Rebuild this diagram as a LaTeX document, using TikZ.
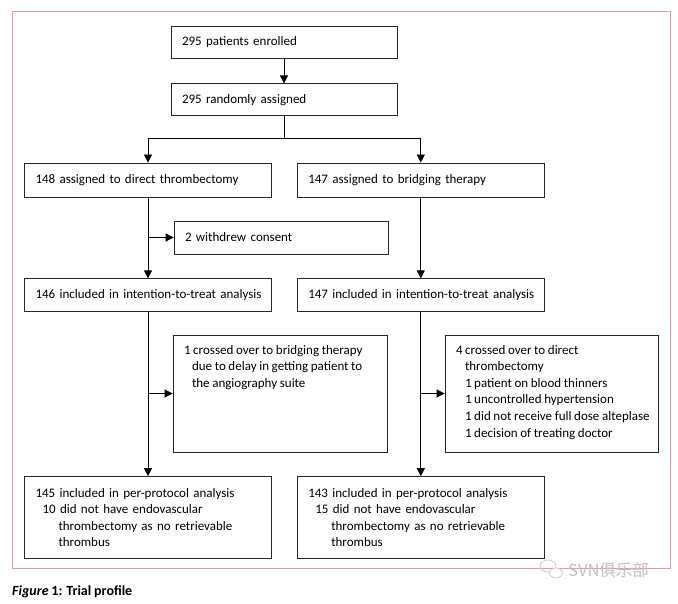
\documentclass[tikz,border=0pt]{standalone}
\usepackage{fontspec}
\setmainfont{Carlito}[WordSpace=0.9]
\newfontfamily\cjkfont{Noto Sans CJK SC}
\usepackage{xcolor}
\usetikzlibrary{arrows.meta,positioning}
\definecolor{framepink}{RGB}{228,152,168}
\definecolor{boxline}{RGB}{40,40,40}

\begin{document}
\begin{tikzpicture}[
    x=1pt, y=-1pt,
    font=\fontsize{13}{16.6}\selectfont,
    node distance=25pt and 25pt,
    box/.style={draw=boxline, line width=0.8pt, align=left, inner xsep=11pt, inner ysep=0pt},
    mainbox/.style={box, text width=204pt, minimum height=32pt},
    armbox/.style={box, text width=225pt, minimum height=33pt},
    sidebox/.style={box, text width=192pt, minimum height=33pt},
    tallbox/.style={draw=boxline, line width=0.8pt, inner xsep=11pt, inner ysep=0pt},
    arrow/.style={-{Triangle[length=8pt, width=8pt]}, line width=0.8pt},
    conn/.style={line width=0.8pt}
  ]
    \useasboundingbox (0,0) rectangle (678,604);
    \draw[framepink, line width=0.8pt] (12,11) rectangle (670,568);

    % enrolment and randomisation
    \node[mainbox] (enrol) at (284,42) {295 patients enrolled};
    \node[mainbox, below=of enrol] (rand) {295 randomly assigned};
    \coordinate (split) at (284,138);

    % the two arms
    \node[armbox, minimum height=34pt] (direct) at (148,180) {148 assigned to direct thrombectomy};
    \node[armbox, minimum height=34pt, right=of direct] (bridge) {147 assigned to bridging therapy};
    \node[sidebox] (withdrew) at (281,237.5) {2 withdrew consent};
    \node[armbox, below=81pt of direct] (ittL) {\mbox{146 included in intention-to-treat analysis}};
    \node[armbox, below=81pt of bridge] (ittR) {\mbox{147 included in intention-to-treat analysis}};

    \node[tallbox] (crossL) at (280,393.5) {\parbox[c][117pt][t]{192pt}{\raggedright\vspace*{10pt}%
      1 crossed over to bridging therapy\\
      \hspace*{8pt}due to delay in getting patient to\\
      \hspace*{8pt}the angiography suite}};
    \node[tallbox] (crossR) at (551.5,393.5) {\parbox[c][117pt][t]{191pt}{\raggedright\vspace*{10pt}%
      4 crossed over to direct\\
      \hspace*{9pt}thrombectomy\\
      \hspace*{9pt}1 patient on blood thinners\\
      \hspace*{9pt}1 uncontrolled hypertension\\
      \mbox{\hspace*{9pt}1 did not receive full dose alteplase}\\
      \hspace*{9pt}1 decision of treating doctor}};

    \node[armbox, minimum height=82pt, below=164pt of ittL] (ppL) {145 included in per-protocol analysis\\
      \hspace*{7pt}10 did not have endovascular\\
      \hspace*{23pt}thrombectomy as no retrievable\\
      \hspace*{23pt}thrombus};
    \node[armbox, minimum height=82pt, below=164pt of ittR] (ppR) {143 included in per-protocol analysis\\
      \hspace*{7pt}15 did not have endovascular\\
      \hspace*{23pt}thrombectomy as no retrievable\\
      \hspace*{23pt}thrombus};

    % connectors
    \draw[arrow] (enrol) -- (rand);
    \draw[conn] (rand) -- (split);
    \draw[arrow] (split) -| (direct);
    \draw[arrow] (split) -| (bridge);
    \draw[arrow] (direct) -- (ittL);
    \draw[arrow] (direct.south |- withdrew.west) -- (withdrew);
    \draw[arrow] (bridge) -- (ittR);
    \draw[arrow] (ittL) -- (ppL);
    \draw[arrow] (ittL.south |- crossL.west) -- (crossL);
    \draw[arrow] (ittR) -- (ppR);
    \draw[arrow] (ittR.south |- crossR.west) -- (crossR);

    % caption and watermark
    \node[anchor=base west, inner sep=0pt, font=\fontsize{14}{16}\selectfont\bfseries] (caption) at (12,595) {\textit{Figure} 1: Trial profile};
    \draw[gray!45, line width=0.7pt] (548,566) ellipse (8 and 6);
    \draw[gray!45, line width=0.7pt, fill=white] (556,573) ellipse (6.5 and 5);
    \node[anchor=west, inner sep=0pt, text=gray!50, font=\cjkfont\fontsize{16.5}{17}\selectfont] (mark) at (568,570) {SVN俱乐部};
\end{tikzpicture}
\end{document}
